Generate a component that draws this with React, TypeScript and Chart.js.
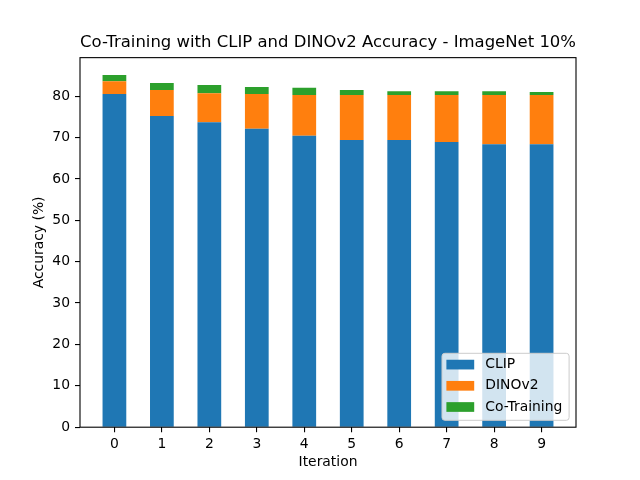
import React, { useRef, useEffect } from 'react';
import { Chart, registerables } from 'chart.js';

Chart.register(...registerables);

// iteration index on the x axis
const iterations = [0, 1, 2, 3, 4, 5, 6, 7, 8, 9];
// segment heights of each stacked bar (accuracy %)
const clipAcc = [80.5, 75.2, 73.7, 72.1, 70.4, 69.4, 69.4, 68.9, 68.4, 68.4];
const dinoAcc = [3.1, 6.3, 7.0, 8.4, 9.9, 10.9, 10.9, 11.4, 11.9, 11.9];
const coTrainAcc = [1.5, 1.7, 2.0, 1.7, 1.7, 1.2, 0.9, 0.9, 0.9, 0.7];
const seriesNames = ['CLIP', 'DINOv2', 'Co-Training'];
const seriesColors = ['#1f77b4', '#ff7f0e', '#2ca02c'];

const FONT = 'DejaVu Sans';

const toPoints = (vals: number[]) => iterations.map((x, i) => ({ x, y: vals[i] }));

// matplotlib style frame around the plot area
const framePlugin = {
  id: 'frame',
  afterDatasetsDraw(chart: any) {
    const { ctx, chartArea: a } = chart;
    ctx.save();
    ctx.strokeStyle = '#000';
    ctx.lineWidth = 1.1;
    ctx.strokeRect(a.left, a.top, a.right - a.left, a.bottom - a.top);
    ctx.restore();
  },
};

// legend box in the lower right corner inside the axes
const innerLegendPlugin = {
  id: 'innerLegend',
  afterDraw(chart: any) {
    const { ctx, chartArea: a } = chart;
    const fs = 13.9;
    const pad = 5.6;
    const handleW = 27.8;
    const handleH = 9.7;
    const textGap = 11.1;
    const rowH = 21.2;
    const sets = chart.data.datasets;
    ctx.save();
    ctx.font = `${fs}px "${FONT}"`;
    const textW = Math.max(...sets.map((d: any) => ctx.measureText(d.label).width));
    const w = pad * 2 + handleW + textGap + textW;
    const h = 67;
    const right = a.right - 6.9;
    const bottom = a.bottom - 6.9;
    const left = right - w;
    const top = bottom - h;
    ctx.beginPath();
    ctx.roundRect(left, top, w, h, 2.8);
    ctx.fillStyle = 'rgba(255,255,255,0.8)';
    ctx.fill();
    ctx.strokeStyle = '#cccccc';
    ctx.lineWidth = 1;
    ctx.stroke();
    sets.forEach((d: any, i: number) => {
      const cy = top + 11.3 + i * rowH;
      ctx.fillStyle = d.backgroundColor;
      ctx.fillRect(left + 4.4, cy - handleH / 2, handleW, handleH);
      ctx.fillStyle = '#000';
      ctx.textBaseline = 'middle';
      ctx.textAlign = 'left';
      ctx.fillText(d.label, left + 4.4 + handleW + textGap, cy);
    });
    ctx.restore();
  },
};

const AccuracyChart: React.FC = () => {
  const canvasRef = useRef<HTMLCanvasElement | null>(null);

  useEffect(() => {
    if (!canvasRef.current) return;
    const values = [clipAcc, dinoAcc, coTrainAcc];
    const tickFont = { family: FONT, size: 13.9 };

    const chart = new Chart(canvasRef.current, {
      type: 'bar',
      data: {
        datasets: values.map((vals, i) => ({
          label: seriesNames[i],
          data: toPoints(vals),
          backgroundColor: seriesColors[i],
          borderWidth: 0,
          barPercentage: 0.5,
          categoryPercentage: 1.0,
        })),
      },
      options: {
        responsive: false,
        animation: false,
        devicePixelRatio: 1,
        layout: { padding: { left: 0, right: 64, top: 0, bottom: 0 } },
        plugins: {
          legend: { display: false },
          tooltip: { enabled: false },
          title: {
            display: true,
            fullSize: false,
            text: 'Co-Training with CLIP and DINOv2 Accuracy - ImageNet 10%',
            color: '#000',
            font: { family: FONT, size: 16.7, weight: 'normal', lineHeight: 1.2 },
            padding: { top: 33, bottom: 4.6 },
          },
        },
        scales: {
          x: {
            type: 'linear',
            stacked: true,
            offset: false,
            min: -0.725,
            max: 9.725,
            grid: {
              offset: false,
              drawOnChartArea: false,
              drawTicks: true,
              tickLength: 5,
              color: '#000',
              lineWidth: 1.1,
            },
            border: { display: false },
            ticks: {
              stepSize: 1,
              includeBounds: false,
              padding: 4,
              color: '#000',
              font: tickFont,
            },
            title: {
              display: true,
              text: 'Iteration',
              color: '#000',
              font: { family: FONT, size: 13.9 },
              padding: { top: 0, bottom: 9.5 },
            },
            afterFit: (scale: any) => {
              scale.height = 52.8;
            },
          },
          y: {
            type: 'linear',
            stacked: true,
            min: 0,
            max: 89.3,
            grid: { drawOnChartArea: false, drawTicks: true, tickLength: 5, color: '#000', lineWidth: 1.1 },
            border: { display: false },
            ticks: {
              stepSize: 10,
              includeBounds: false,
              padding: 5,
              color: '#000',
              font: tickFont,
            },
            title: {
              display: true,
              text: 'Accuracy (%)',
              color: '#000',
              font: { family: FONT, size: 13.9 },
              padding: { top: 31, bottom: 0 },
            },
            afterFit: (scale: any) => {
              scale.width = 80;
            },
          },
        },
      },
      plugins: [framePlugin, innerLegendPlugin],
    } as any);

    return () => {
      chart.destroy();
    };
  }, []);

  return <canvas ref={canvasRef} width={640} height={480}></canvas>;
};

export default function App() {
  return (
    <div style={{ position: 'absolute', left: 0, top: 0, width: 640, height: 480, background: '#fff' }}>
      <AccuracyChart />
    </div>
  );
}
